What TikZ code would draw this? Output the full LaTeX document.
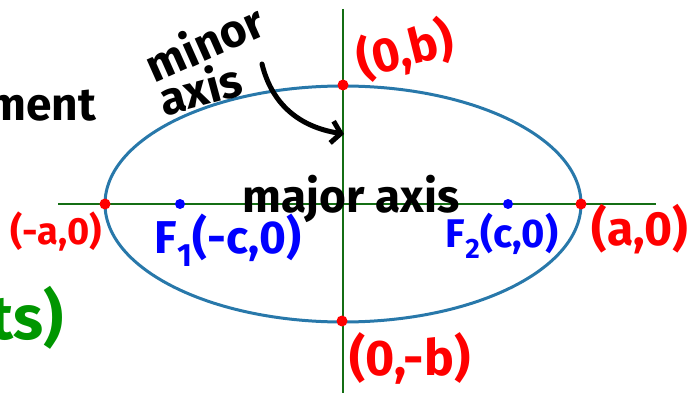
\documentclass[tikz,border=0pt]{standalone}
\usepackage{fontspec}
\setmainfont{Fira Sans}
\usepackage{tikz}
\usetikzlibrary{arrows.meta, positioning}
\definecolor{ellipseblue}{RGB}{40,120,170}
\definecolor{axisgreen}{RGB}{20,110,20}
\definecolor{notegreen}{RGB}{0,150,0}
\tikzset{
  dot/.style={circle, fill, inner sep=0pt, minimum size=11pt},
  hand/.style={font=\fontsize{#1}{#1}\selectfont\bfseries, inner sep=0pt},
  hand/.default=38
}

\begin{document}
\begin{tikzpicture}[x=1pt,y=-1pt]
            \useasboundingbox (0,0) rectangle (691,393);
            \clip (0,0) rectangle (691,393);
            \draw[axisgreen,line width=2pt] (58,204) --(656,204); %major axis line
            \draw[axisgreen,line width=2pt] (343,9) --(343,393); %minor axis line
            \draw[ellipseblue,line width=3pt] (343,204) ellipse [x radius=238, y radius=118]; %ellipse
            \node[dot,red] (lv) at (105,204) {}; %vertex (-a,0)
            \node[dot,red] (rv) at (581,204) {}; %vertex (a,0)
            \node[dot,red] (tc) at (343,85) {}; %co-vertex (0,b)
            \node[dot,red] (bc) at (342,321) {}; %co-vertex (0,-b)
            \node[dot,blue,minimum size=10pt] (fa) at (180,204) {}; %focus F1
            \node[dot,blue,minimum size=10pt] (fb) at (508,204) {}; %focus F2
            \node[hand,red] (lvlbl) at (56,232) {(-a,0)};
            \node[hand=48,red] (rvlbl) at (640,229) {(a,0)};
            \node[hand=48,red,rotate=14] (tclbl) at (405,50) {(0,b)};
            \node[hand=50,red] (bclbl) at (410,358) {(0,-b)};
            \node[hand=46,blue] (falbl) at (228,240) {F\textsubscript{1}(-c,0)};
            \node[hand=40,blue] (fblbl) at (502,236) {F\textsubscript{2}(c,0)};
            \node[hand=46] (majlbl) at (351,199) {major axis};
            \node[hand=46,rotate=24] (minlbl) at (204,42) {minor};
            \node[hand=46,rotate=15] (axlbl) at (200,88) {axis};
            \node[hand=46,anchor=east] (ment) at (96,106) {ment}; %cut off at the left
            \node[hand=62,notegreen,anchor=east] (ts) at (64,318) {ts)};
            \coordinate (arrtail) at (262,64);
            \coordinate (arrhead) at (344,134);
            \draw[line width=5pt,line cap=round,-{Straight Barb[length=9pt,width=22pt]}] (arrtail) .. controls (272,105) and (300,127) .. (arrhead); %points at minor axis
        \end{tikzpicture}
\end{document}
